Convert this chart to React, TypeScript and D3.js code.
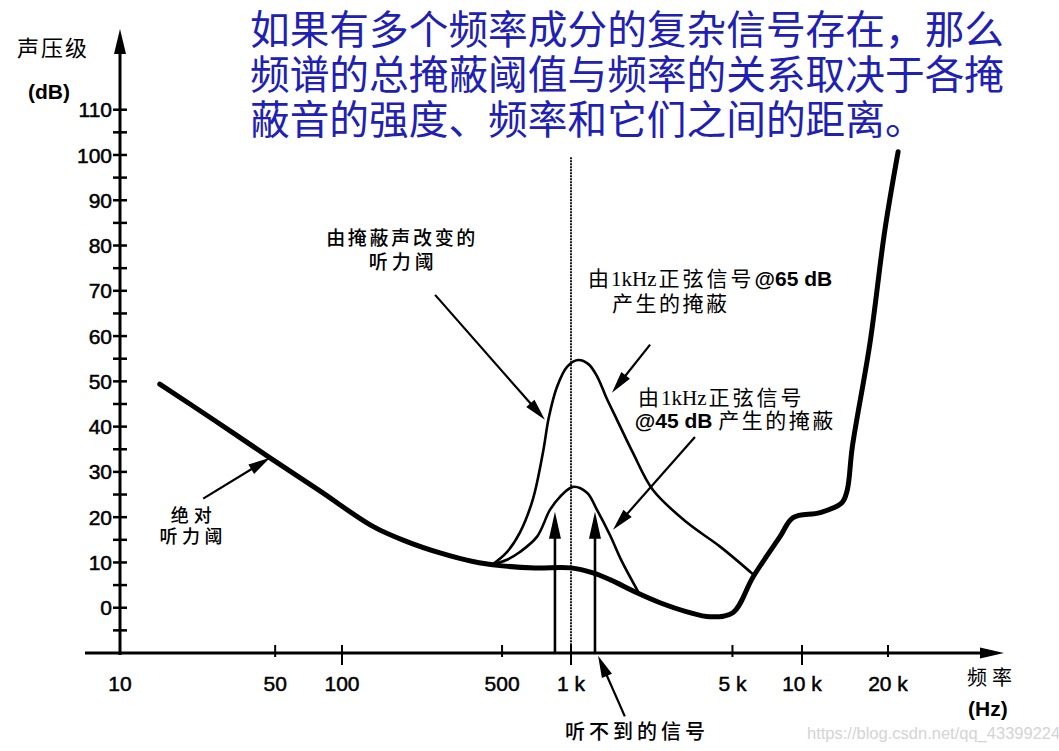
import React from 'react';
import * as d3 from 'd3';

// ---------------- data ----------------
const yMajorTicks = [0, 10, 20, 30, 40, 50, 60, 70, 80, 90, 100, 110];
const yMinorTicks = [-5, 5, 15, 25, 35, 45, 55, 65, 75, 85, 95, 105];
const xTickValues = [10, 50, 100, 500, 1000, 5000, 10000, 20000];
const xTickLabels = ['10', '50', '100', '500', '1 k', '5 k', '10 k', '20 k'];
const xLongTicks = [100, 1000, 10000];

// absolute threshold of hearing (Hz, dB)
const thresholdFreq = [15.1, 26.8, 47.4, 79.5, 137, 192, 268, 373, 490, 697, 1000, 1245, 1475, 1930, 2430, 3180, 4000, 5020, 6140, 8030, 9150, 11560, 13800, 14400, 15000, 17300, 19500, 21700];
const thresholdDb = [49.4, 41.3, 33.1, 25.8, 17.9, 14.6, 12.1, 10.2, 9.3, 8.8, 8.8, 7.7, 6.2, 3.3, 1.1, -0.9, -2.0, -1.1, 6.8, 15.7, 19.9, 21, 23.2, 26, 35.5, 58.5, 83.4, 100.7];

// masking produced by a 1 kHz tone @65 dB
const mask65Freq = [452, 525, 598, 682, 755, 800, 869, 961, 1072, 1190, 1300, 1420, 1582, 1855, 2264, 3180, 4420, 6200];
const mask65Db = [9.5, 12.3, 16.6, 24, 34.4, 42, 48.8, 53.2, 54.7, 53.8, 51, 46.5, 41.5, 34.2, 26, 18.8, 13.5, 7.2];

// masking produced by a 1 kHz tone @45 dB
const mask45Freq = [452, 525, 598, 711, 809, 895, 1020, 1173, 1296, 1476, 1650, 1960];
const mask45Db = [9.5, 10.6, 12.3, 15.7, 21.6, 24.5, 26.7, 25.4, 21.6, 16, 10.5, 3.4];

// inaudible signals (Hz) and their level (dB)
const signalFreq = [851, 1270];
const signalDb = [21.2, 21.2];
const maskerFreq = 1000;
const maskerLineTopDb = 99.5;

const titleLines = [
  '如果有多个频率成分的复杂信号存在，那么',
  '频谱的总掩蔽阈值与频率的关系取决于各掩',
  '蔽音的强度、频率和它们之间的距离。',
];

// annotation arrows: from (Hz, dB) to (Hz, dB)
const arrowFromFreq = [255, 2200, 3440, 23.7, 1710];
const arrowFromDb = [69.1, 58.1, 37.7, 24.1, -24];
const arrowToFreq = [769, 1504, 1520, 47.4, 1310];
const arrowToDb = [41.5, 47.5, 17.2, 33.1, -10.6];

// ---------------- layout ----------------
const W = 1059;
const H = 751;
const CJK = '"Noto Sans CJK SC", sans-serif';
const SANS = '"Liberation Sans", Arial, sans-serif';
const SERIF = '"Liberation Serif", "DejaVu Serif", serif';

const x = d3.scaleLog().domain([10, 100, 1000, 10000, 20000]).range([120, 342, 571, 802, 888]);
const y = d3.scaleLinear().domain([-10, 110]).range([653, 109.7]);

const line = d3
  .line<[number, number]>()
  .x((d) => x(d[0]))
  .y((d) => y(d[1]))
  .curve(d3.curveCatmullRom.alpha(0.5));

const zip = (a: number[], b: number[]) => a.map((v, i) => [v, b[i]] as [number, number]);

function Arrow({ x1, y1, x2, y2, len = 22, hw = 5.5, sw = 2.2 }: any) {
  const dx = x2 - x1;
  const dy = y2 - y1;
  const L = Math.hypot(dx, dy);
  const ux = dx / L;
  const uy = dy / L;
  const bx = x2 - ux * len;
  const by = y2 - uy * len;
  const px = -uy;
  const py = ux;
  const pts = `${x2},${y2} ${bx + px * hw},${by + py * hw} ${bx - px * hw},${by - py * hw}`;
  return (
    <g>
      <line x1={x1} y1={y1} x2={bx + ux * 2} y2={by + uy * 2} stroke="#000" strokeWidth={sw} />
      <polygon points={pts} fill="#000" />
    </g>
  );
}

export default function App() {
  const thresholdPath = line(zip(thresholdFreq, thresholdDb)) || '';
  const m65Path = line(zip(mask65Freq, mask65Db)) || '';
  const m45Path = line(zip(mask45Freq, mask45Db)) || '';
  const axisY = y(-10);
  const axisX = x(10);

  return (
    <div style={{ position: 'absolute', left: 0, top: 0 }}>
      <svg width={W} height={H} viewBox={`0 0 ${W} ${H}`} style={{ display: 'block', background: '#fff' }}>
        <rect x={0} y={0} width={W} height={H} fill="#fff" />

        {/* title */}
        {titleLines.map((t, i) => (
          <text key={i} x={250} y={29 + i * 45} dy="0.37em" fontFamily={CJK} fontSize={39.7} fill="#2020b4">
            {t}
          </text>
        ))}

        {/* y axis */}
        <line x1={axisX} y1={axisY + 2} x2={axisX} y2={50} stroke="#000" strokeWidth={3} />
        <polygon points={`${axisX},29 ${axisX - 6},54 ${axisX + 6},54`} fill="#000" />
        {yMajorTicks.concat(yMinorTicks).map((v) => (
          <line key={v} x1={axisX - 7} x2={axisX + 7} y1={y(v)} y2={y(v)} stroke="#000" strokeWidth={2.5} />
        ))}
        {yMajorTicks.map((v) => (
          <text key={v} x={112} y={y(v)} dy="0.36em" textAnchor="end" fontFamily={SANS} fontSize={21} fill="#000" stroke="#000" strokeWidth={0.5}>
            {v}
          </text>
        ))}
        <text x={17} y={48} dy="0.37em" fontFamily={CJK} fontSize={22} letterSpacing={2} fill="#000">
          声压级
        </text>
        <text x={28} y={91} dy="0.36em" fontFamily={SANS} fontWeight="bold" fontSize={21} fill="#000">
          (dB)
        </text>

        {/* x axis */}
        <line x1={85} y1={axisY} x2={985} y2={axisY} stroke="#000" strokeWidth={3} />
        <polygon points={`1004,${axisY} 980,${axisY - 5.5} 980,${axisY + 5.5}`} fill="#000" />
        {xTickValues.slice(1).map((v) => {
          const long = xLongTicks.includes(v);
          return (
            <line key={v} x1={x(v)} x2={x(v)} y1={axisY - 8} y2={long ? axisY + 12 : axisY + 4} stroke="#000" strokeWidth={2} />
          );
        })}
        {xTickValues.map((v, i) => (
          <text key={v} x={x(v)} y={683} dy="0.36em" textAnchor="middle" fontFamily={SANS} fontSize={21} fill="#000" stroke="#000" strokeWidth={0.5}>
            {xTickLabels[i]}
          </text>
        ))}
        <text x={967} y={678} dy="0.37em" fontFamily={CJK} fontSize={20} letterSpacing={5} fill="#000">
          频率
        </text>
        <text x={968} y={708} dy="0.36em" fontFamily={SANS} fontWeight="bold" fontSize={21} fill="#000">
          (Hz)
        </text>

        {/* masker position */}
        <line x1={x(maskerFreq)} x2={x(maskerFreq)} y1={y(maskerLineTopDb)} y2={axisY} stroke="#000" strokeWidth={1.8} strokeDasharray="2 1" />

        {/* curves */}
        <path d={m65Path} fill="none" stroke="#000" strokeWidth={2.6} strokeLinejoin="round" strokeLinecap="round" />
        <path d={m45Path} fill="none" stroke="#000" strokeWidth={2.6} strokeLinejoin="round" strokeLinecap="round" />
        <path d={thresholdPath} fill="none" stroke="#000" strokeWidth={5} strokeLinejoin="round" strokeLinecap="round" />

        {/* signal arrows */}
        {signalFreq.map((f, i) => (
          <Arrow key={f} x1={x(f)} y1={axisY} x2={x(f)} y2={y(signalDb[i])} len={27} hw={6} sw={2.6} />
        ))}

        {/* annotation arrows */}
        {arrowFromFreq.map((f, i) => (
          <Arrow key={i} x1={x(f)} y1={y(arrowFromDb[i])} x2={x(arrowToFreq[i])} y2={y(arrowToDb[i])} />
        ))}

        {/* annotation texts */}
        <text x={x(183)} y={y(81.7)} dy="0.37em" textAnchor="middle" fontFamily={CJK} fontWeight={500} fontSize={19} letterSpacing={2.7} fill="#000">
          由掩蔽声改变的
        </text>
        <text x={x(185)} y={y(76.4)} dy="0.37em" textAnchor="middle" fontFamily={CJK} fontWeight={500} fontSize={19} letterSpacing={4} fill="#000">
          听力阈
        </text>

        <text x={x(1185)} y={y(72.8)} dy="0.37em" fontSize={21} fill="#000">
          <tspan fontFamily={CJK}>由</tspan>
          <tspan fontFamily={SERIF} dx={2}>1kHz</tspan>
          <tspan fontFamily={CJK} dx={2} letterSpacing={3}>正弦信号</tspan>
          <tspan fontFamily={SANS} fontWeight="bold">@65 dB</tspan>
        </text>
        <text x={x(1505)} y={y(67.3)} dy="0.37em" fontFamily={CJK} fontSize={21} letterSpacing={2.5} fill="#000">
          产生的掩蔽
        </text>

        <text x={x(1950)} y={y(46.4)} dy="0.37em" fontSize={21} fill="#000">
          <tspan fontFamily={CJK}>由</tspan>
          <tspan fontFamily={SERIF} dx={2}>1kHz</tspan>
          <tspan fontFamily={CJK} dx={2} letterSpacing={3}>正弦信号</tspan>
        </text>
        <text x={x(1890)} y={y(41.5)} dy="0.37em" fontSize={21} fill="#000">
          <tspan fontFamily={SANS} fontWeight="bold">@45 dB </tspan>
          <tspan fontFamily={CJK} letterSpacing={2.5}>产生的掩蔽</tspan>
        </text>

        <text x={x(21.5)} y={y(20.5)} dy="0.37em" textAnchor="middle" fontFamily={CJK} fontWeight={500} fontSize={18} letterSpacing={5} fill="#000">
          绝对
        </text>
        <text x={x(21.4)} y={y(15.7)} dy="0.37em" textAnchor="middle" fontFamily={CJK} fontWeight={500} fontSize={18} letterSpacing={4.5} fill="#000">
          听力阈
        </text>

        <text x={x(1930)} y={y(-27.4)} dy="0.37em" textAnchor="middle" fontFamily={CJK} fontWeight={500} fontSize={20} letterSpacing={4} fill="#000">
          听不到的信号
        </text>

        {/* watermark */}
        <text x={807} y={733} dy="0.36em" fontFamily={SANS} fontSize={16.5} fill="#d4d4d4">
          https://blog.csdn.net/qq_43399224
        </text>
      </svg>
    </div>
  );
}
